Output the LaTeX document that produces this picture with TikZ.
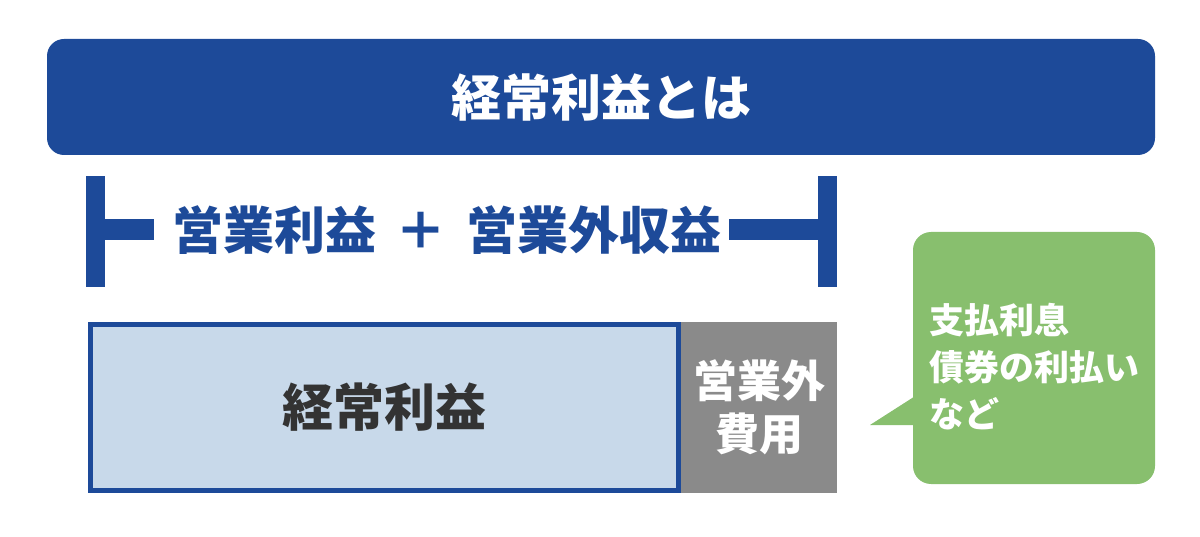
\documentclass[tikz,border=0pt]{standalone}
\usepackage{fontspec}
\newfontfamily\jpfont{Noto Sans CJK JP}
\usepackage{tikz}
\usetikzlibrary{positioning}
\usepackage{xcolor}
\definecolor{darkblue}{HTML}{1D4A99}
\definecolor{paleblue}{HTML}{C8D9EA}
\definecolor{midgray}{HTML}{8A8A8A}
\definecolor{leafgreen}{HTML}{88BF6E}
\definecolor{inkgray}{HTML}{333333}

\begin{document}
\begin{tikzpicture}[
    x=1pt, y=-1pt,
    every node/.style={font=\jpfont\bfseries},
    titlebar/.style={fill=darkblue, rounded corners=17pt, text=white, inner sep=0pt},
    profitbox/.style={draw=darkblue, line width=5pt, fill=paleblue, text=inkgray, inner sep=0pt},
    costbox/.style={fill=midgray, text=white, inner sep=0pt, align=center,
        font=\jpfont\bfseries\fontsize{44}{53}\selectfont},
    notebox/.style={fill=leafgreen, rounded corners=18pt, inner sep=0pt},
    notetext/.style={text=white, inner sep=0pt, anchor=west, align=left,
        font=\jpfont\bfseries\fontsize{35}{47}\selectfont},
]
\useasboundingbox (0,0) rectangle (1200,537);
% Nodes
\node[titlebar, minimum width=1108pt, minimum height=116pt] (title) at (601,97)
    {\fontsize{50}{60}\selectfont 経常利益とは};
\node[text=darkblue, inner sep=0pt] (sum) at (447,230)
    {\fontsize{51}{60}\selectfont 営業利益\hspace{20pt}＋\hspace{20pt}営業外収益};
\node[profitbox, minimum width=588pt, minimum height=166pt] (profit) at (384.5,407.5)
    {\fontsize{51}{60}\selectfont 経常利益};
\node[costbox, minimum width=156pt, minimum height=171pt] (cost) at (759,407.5)
    {営業外\\費用};
\node[notebox, minimum width=242pt, minimum height=252pt] (note) at (1034,358) {};
\node[notetext] (notelines) at (929,367) {支払利息\\債券の利払い\\など};
\coordinate (tip) at (870,425);
% Bracket
\fill[darkblue] (86,176) rectangle (105,287);
\fill[darkblue] (105,219) rectangle (154,240);
\fill[darkblue] (729,219) rectangle (818,240);
\fill[darkblue] (818,176) rectangle (837,287);
% Tail
\fill[leafgreen] (tip) -- (920,393) -- (920,425) -- cycle;
\end{tikzpicture}
\end{document}
